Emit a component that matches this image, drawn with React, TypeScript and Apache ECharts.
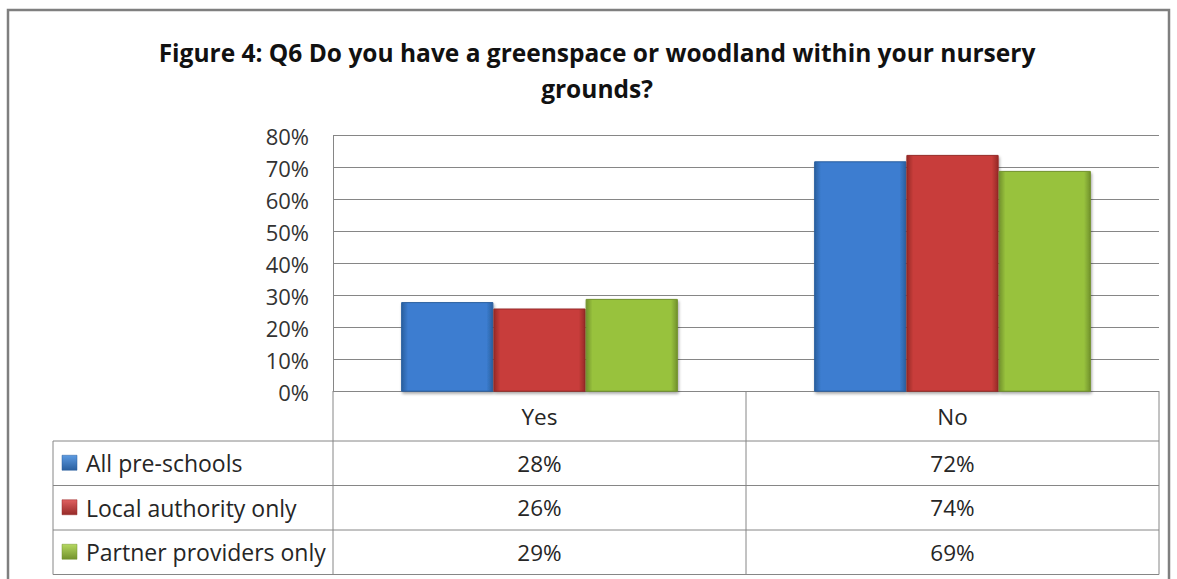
import React, { useEffect, useRef } from "react";
import * as echarts from "echarts";

const categories = ["Yes", "No"];
const seriesNames = ["All pre-schools", "Local authority only", "Partner providers only"];
const allPreSchools = [28, 72];
const localAuthority = [26, 74];
const partnerProviders = [29, 69];
const yMax = 80;
const yInterval = 10;
const titleText = "Figure 4: Q6 Do you have a greenspace or woodland within your nursery\ngrounds?";

const seriesData = [allPreSchools, localAuthority, partnerProviders];
const palette = [
  { light: "#5d9be2", main: "#3c7dd0", dark: "#2a5f9f" },
  { light: "#e06060", main: "#c83c3a", dark: "#962a28" },
  { light: "#b5d860", main: "#98c23e", dark: "#72922c" },
];

const FONT = "'Open Sans', Lato, sans-serif";
const LINE = "#868686";

export default function App() {
  const ref = useRef<HTMLDivElement>(null);
  useEffect(() => {
    if (!ref.current) return;
    const chart = echarts.init(ref.current, undefined, { renderer: "svg" });
    const gridLeft = 333;
    const gridRight = 1159;
    const gridTop = 135.7;
    const gridBottom = 391.7;
    chart.setOption({
      animation: false,
      backgroundColor: "#ffffff",
      grid: { left: gridLeft, right: 1177 - gridRight, top: gridTop, bottom: 579 - gridBottom },
      xAxis: {
        type: "category",
        data: categories,
        axisLine: { show: true, lineStyle: { color: LINE, width: 1 } },
        axisTick: { show: false },
        axisLabel: { color: "#262626", fontFamily: FONT, fontSize: 22.5, margin: 13, lineHeight: 23 },
      },
      yAxis: {
        type: "value",
        min: 0,
        max: yMax,
        interval: yInterval,
        axisLine: { show: true, lineStyle: { color: LINE, width: 1 } },
        axisTick: { show: false },
        axisLabel: { formatter: "{value}%", color: "#333333", fontFamily: FONT, fontSize: 22, margin: 24 },
        splitLine: { show: true, lineStyle: { color: LINE, width: 1 } },
      },
      series: seriesNames.map((name, i) => ({
        name,
        type: "bar",
        data: seriesData[i],
        barGap: "0%",
        barCategoryGap: "33%",
        itemStyle: {
          color: new echarts.graphic.LinearGradient(0, 0, 1, 0, [
            { offset: 0, color: palette[i].dark },
            { offset: 0.07, color: palette[i].main },
            { offset: 0.93, color: palette[i].main },
            { offset: 1, color: palette[i].dark },
          ]),
          borderColor: palette[i].dark,
          borderWidth: 1,
          shadowBlur: 3,
          shadowColor: "rgba(0,0,0,0.35)",
          shadowOffsetX: 1,
          shadowOffsetY: 2,
        },
      })),
    });

    const rowTops = [441, 485.5, 530, 574.5];
    const tableLeft = 53;
    const midX = (gridLeft + gridRight) / 2;
    const g: any[] = [];
    g.push({
      type: "rect",
      shape: { x: 8, y: 10, width: 1161, height: 600 },
      style: { fill: "none", stroke: "#7f7f7f", lineWidth: 2.5 },
      z: 100,
    });
    g.push({
      type: "text",
      x: 597,
      y: 34,
      style: {
        text: titleText,
        fill: "#111111",
        fontFamily: FONT,
        fontSize: 24.5,
        fontWeight: "bold",
        lineHeight: 36,
        align: "center",
        verticalAlign: "top",
      },
    });
    const line = (x1: number, y1: number, x2: number, y2: number) => ({
      type: "line",
      shape: { x1, y1, x2, y2 },
      style: { stroke: LINE, lineWidth: 1 },
      z: 50,
    });
    g.push(line(gridLeft, gridBottom, gridLeft, rowTops[3]));
    g.push(line(midX, gridBottom, midX, rowTops[3]));
    g.push(line(gridRight, gridBottom, gridRight, rowTops[3]));
    g.push(line(tableLeft, rowTops[0], tableLeft, rowTops[3]));
    rowTops.forEach((y) => g.push(line(tableLeft, y, gridRight, y)));

    seriesNames.forEach((name, i) => {
      const cy = (rowTops[i] + rowTops[i + 1]) / 2;
      g.push({
        type: "rect",
        shape: { x: 62, y: cy - 8, width: 15, height: 15 },
        style: {
          fill: new echarts.graphic.LinearGradient(0, 0, 0, 1, [
            { offset: 0, color: palette[i].light },
            { offset: 1, color: palette[i].dark },
          ]),
          stroke: palette[i].dark,
          lineWidth: 0.5,
        },
        z: 60,
      });
      g.push({
        type: "text",
        x: 86,
        y: cy,
        style: {
          text: name,
          fill: "#262626",
          fontFamily: FONT,
          fontSize: 23,
          align: "left",
          verticalAlign: "middle",
        },
        z: 60,
      });
      categories.forEach((cat, j) => {
        const px = chart.convertToPixel({ xAxisIndex: 0 }, cat) as number;
        g.push({
          type: "text",
          x: px,
          y: cy,
          style: {
            text: `${Math.round(seriesData[i][j])}%`,
            fill: "#262626",
            fontFamily: FONT,
            fontSize: 22.5,
            align: "center",
            verticalAlign: "middle",
          },
          z: 60,
        });
      });
    });
    chart.setOption({ graphic: g });
    return () => chart.dispose();
  }, []);
  return (
    <div
      ref={ref}
      style={{ position: "absolute", left: 0, top: 0, width: 1177, height: 579 }}
    />
  );
}
